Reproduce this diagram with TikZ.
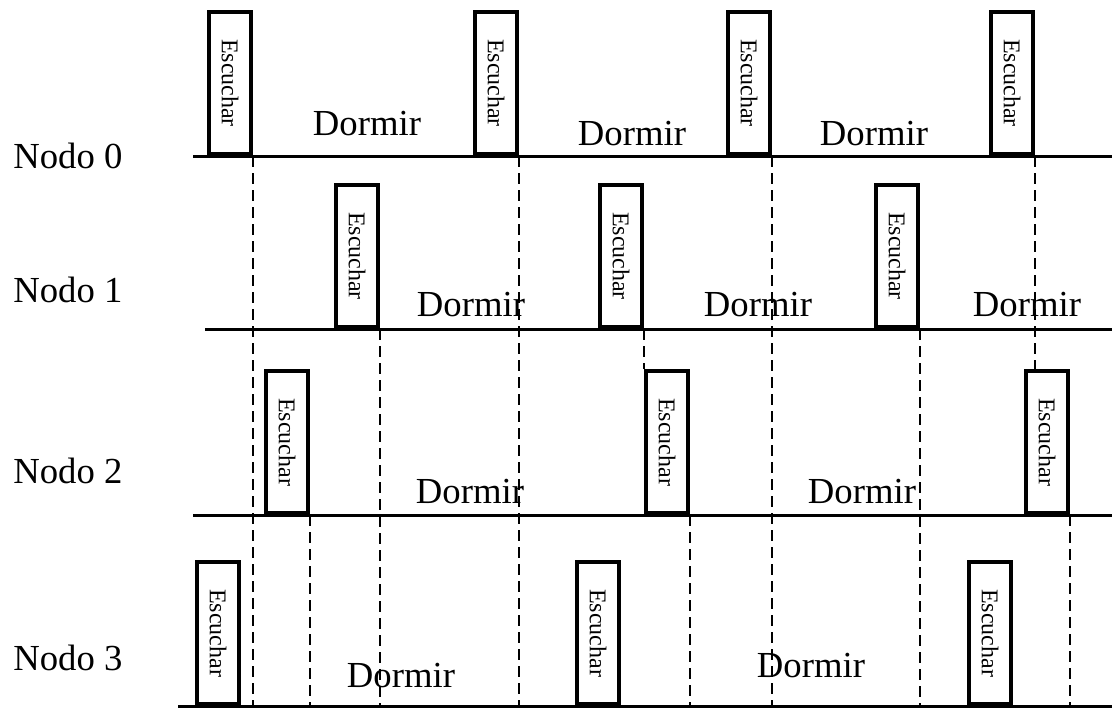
\documentclass[tikz,border=0pt]{standalone}
\usepackage{graphicx}
\usepackage{fontspec}
\setmainfont{Liberation Serif}
\usetikzlibrary{positioning}

\tikzset{
  escuchar/.style={draw,rectangle,line width=2pt,inner sep=0pt,
    minimum width=21pt,minimum height=71pt,anchor=south west,
    font=\fontsize{12}{14}\selectfont},
  texto/.style={inner sep=0pt,anchor=base,font=\fontsize{18.35}{22}\selectfont},
  linea/.style={line width=1.5pt},
  guia/.style={line width=1.2pt,dash pattern=on 5.5pt off 3pt}
}

\begin{document}
\begin{tikzpicture}[x=0.5pt,y=-0.5pt]
  \useasboundingbox (0,0) rectangle (1112,707);
  \coordinate (fondo) at (0,707);

  % ejes de tiempo
  \draw[linea] (193,156) -- (1112,156);
  \draw[linea] (205,329) -- (1112,329);
  \draw[linea] (193,515) -- (1112,515);
  \draw[linea] (178,706) -- (1112,706);

  \node[texto,anchor=base west] (n0) at (13,168) {Nodo 0};
  \node[texto,anchor=base west] (n1) at (13,302) {Nodo 1};
  \node[texto,anchor=base west] (n2) at (13,483) {Nodo 2};
  \node[texto,anchor=base west] (n3) at (13,670) {Nodo 3};

  % ventanas de escucha
  \foreach \x [count=\i] in {207,473,726,989}
    \node[escuchar] (e0\i) at (\x,156) {\rotatebox{-90}{Escuchar}};
  \foreach \x [count=\i] in {334,598,874}
    \node[escuchar] (e1\i) at (\x,329) {\rotatebox{-90}{Escuchar}};
  \foreach \x [count=\i] in {264,644,1024}
    \node[escuchar] (e2\i) at (\x,515) {\rotatebox{-90}{Escuchar}};
  \foreach \x [count=\i] in {195,575,967}
    \node[escuchar] (e3\i) at (\x,706) {\rotatebox{-90}{Escuchar}};

  % periodos de sueno
  \foreach \x/\y [count=\i] in {367/135,632/145,874/145}
    \node[texto] (d0\i) at (\x,\y) {Dormir};
  \foreach \x/\y [count=\i] in {471/316,758/316,1027/316}
    \node[texto] (d1\i) at (\x,\y) {Dormir};
  \foreach \x/\y [count=\i] in {470/503,862/503}
    \node[texto] (d2\i) at (\x,\y) {Dormir};
  \foreach \x/\y [count=\i] in {401/687,811/677}
    \node[texto] (d3\i) at (\x,\y) {Dormir};

  % lineas guia
  \foreach \n in {e01,e02,e03,e11,e13,e21,e22,e23}
    \draw[guia] (\n.south east) -- (\n.south east |- fondo);
  \draw[guia] (e12.south east) -- (e12.south east |- e22.north);
  \draw[guia] (e04.south east) -- (e04.south east |- e23.north);
\end{tikzpicture}
\end{document}
